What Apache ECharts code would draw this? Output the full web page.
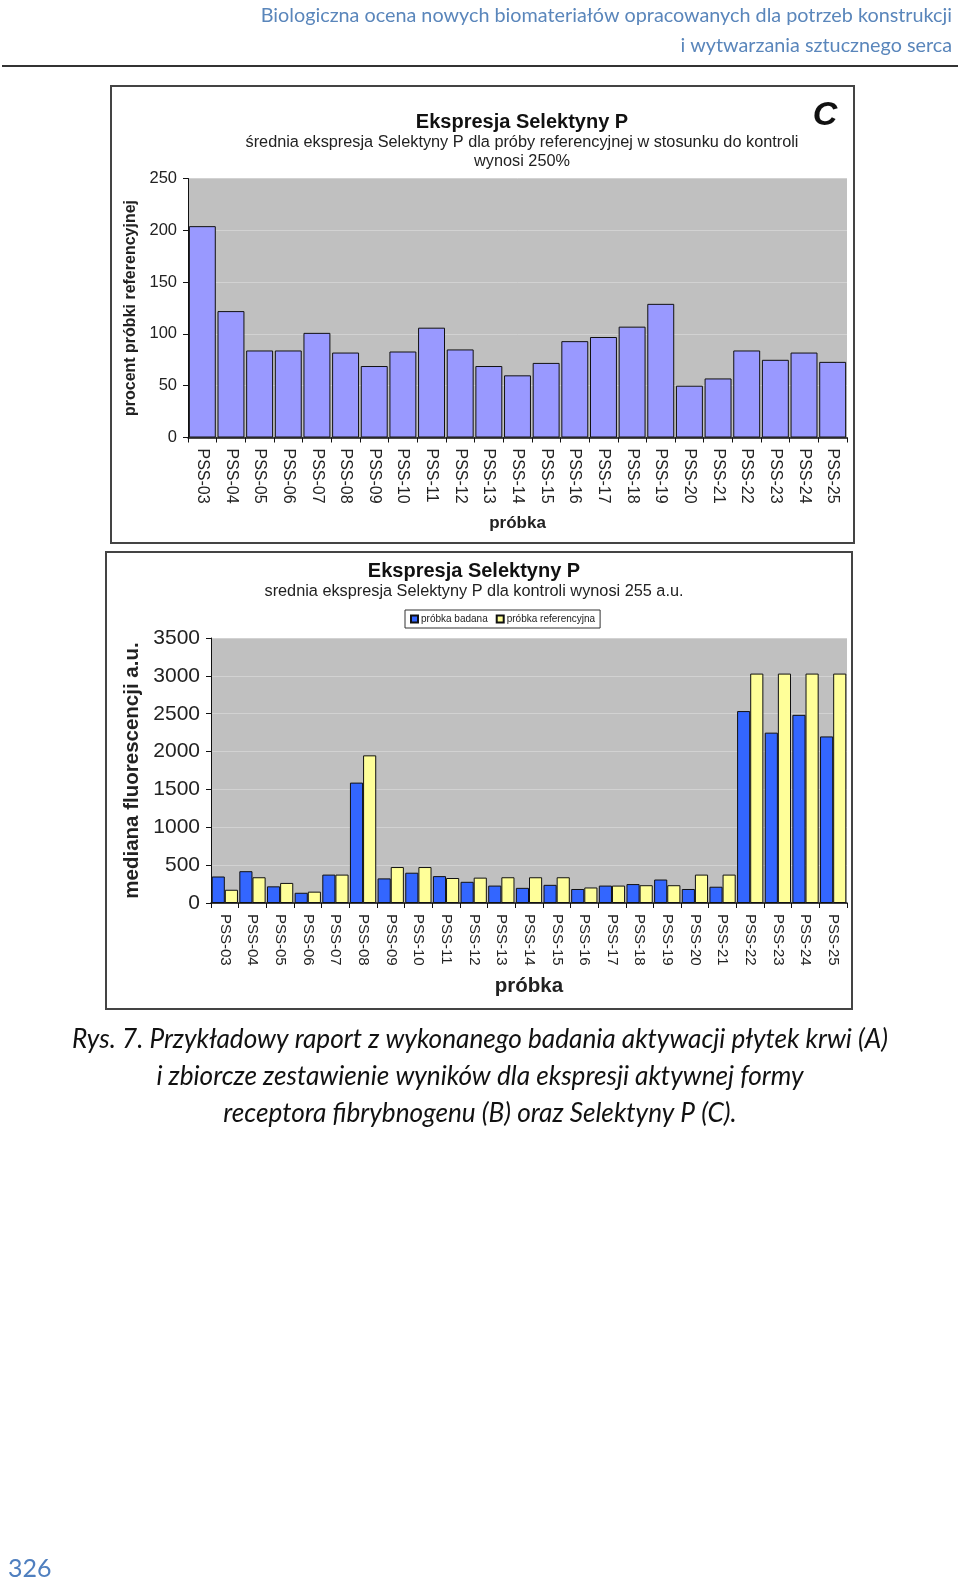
<!DOCTYPE html>
<html>
<head>
<meta charset="utf-8">
<script src="https://cdn.jsdelivr.net/npm/echarts@6/dist/echarts.min.js"></script>
<style>
html,body{margin:0;padding:0;background:#fff;}
#chart{width:960px;height:1581px;}
</style>
</head>
<body>
<div id="chart"></div>
<script>
// ---- data ----
const categories = ['PSS-03','PSS-04','PSS-05','PSS-06','PSS-07','PSS-08','PSS-09','PSS-10','PSS-11','PSS-12','PSS-13','PSS-14','PSS-15','PSS-16','PSS-17','PSS-18','PSS-19','PSS-20','PSS-21','PSS-22','PSS-23','PSS-24','PSS-25'];
const percentRef = [204, 122, 84, 84, 101, 82, 69, 83, 106, 85, 69, 60, 72, 93, 97, 107, 129, 50, 57, 84, 75, 82, 73];
const badana = [350, 420, 220, 135, 375, 1590, 325, 400, 355, 280, 230, 200, 240, 185, 230, 250, 310, 185, 215, 2535, 2250, 2485, 2200];
const referencyjna = [175, 340, 265, 150, 375, 1950, 475, 475, 330, 335, 340, 340, 340, 205, 230, 235, 235, 375, 375, 3030, 3030, 3030, 3030];
const topTicks = {min: 0, max: 250, interval: 50};
const bottomTicks = {min: 0, max: 3500, interval: 500};

const topTitle = 'Ekspresja Selektyny P';
const topSub1 = 'średnia ekspresja Selektyny P dla próby referencyjnej w stosunku do kontroli';
const topSub2 = 'wynosi 250%';
const bottomTitle = 'Ekspresja Selektyny P';
const bottomSub = 'srednia ekspresja Selektyny P dla kontroli wynosi 255 a.u.';
const headerLines = ['Biologiczna ocena nowych biomateriałów opracowanych dla potrzeb konstrukcji', 'i wytwarzania sztucznego serca'];
const captionLines = ['Rys. 7. Przykładowy raport z wykonanego badania aktywacji płytek krwi (A)', 'i zbiorcze zestawienie wyników dla ekspresji aktywnej formy', 'receptora fibrybnogenu (B) oraz Selektyny P (C).'];

const NF = "'Liberation Sans',Arial,sans-serif";
const DOC = "Lato,'Open Sans',sans-serif";

const chart = echarts.init(document.getElementById('chart'), null, {renderer: 'canvas'});

function txt(text, x, y, o) {
  return {type: 'text', z: 10, style: Object.assign({text: text, x: x, y: y, textAlign: 'center', textVerticalAlign: 'middle', fill: '#111', fontFamily: NF, fontSize: 14}, o || {})};
}

const graphics = [
  // header
  txt(headerLines[0], 952, 16, {textAlign: 'right', fill: '#5a86bb', fontFamily: DOC, fontSize: 19.8}),
  txt(headerLines[1], 952, 46, {textAlign: 'right', fill: '#5a86bb', fontFamily: DOC, fontSize: 19.8}),
  {type: 'line', shape: {x1: 2, y1: 66, x2: 958, y2: 66}, style: {stroke: '#333', lineWidth: 2}},
  // frames
  {type: 'rect', shape: {x: 111, y: 86, width: 743, height: 457}, style: {fill: 'none', stroke: '#444', lineWidth: 2}},
  {type: 'rect', shape: {x: 106, y: 552, width: 746, height: 457}, style: {fill: 'none', stroke: '#444', lineWidth: 2}},
  // top chart titles
  txt(topTitle, 522, 122, {fontWeight: 'bold', fontSize: 20}),
  txt(topSub1, 522, 143, {fontSize: 16.3, fill: '#222'}),
  txt(topSub2, 522, 162, {fontSize: 16.3, fill: '#222'}),
  txt('C', 825, 116, {fontWeight: 'bold', fontStyle: 'italic', fontSize: 34}),
  // bottom chart titles
  txt(bottomTitle, 474, 571, {fontWeight: 'bold', fontSize: 20}),
  txt(bottomSub, 474, 592, {fontSize: 16.3, fill: '#222'}),
  // caption
  txt(captionLines[0], 480, 1040, {fontFamily: DOC, fontStyle: 'italic', fontSize: 26.2}),
  txt(captionLines[1], 480, 1077, {fontFamily: DOC, fontStyle: 'italic', fontSize: 26.2}),
  txt(captionLines[2], 480, 1114, {fontFamily: DOC, fontStyle: 'italic', fontSize: 26.2}),
  // page number
  txt('326', 8, 1569, {textAlign: 'left', fill: '#4f7fbf', fontFamily: DOC, fontSize: 25})
];

const noSep = v => String(v);

const option = {
  animation: false,
  backgroundColor: '#ffffff',
  graphic: graphics,
  legend: {
    data: ['próbka badana', 'próbka referencyjna'],
    left: 405, top: 610,
    orient: 'horizontal',
    borderColor: '#333', borderWidth: 1,
    padding: [4, 5, 4, 5],
    itemWidth: 7, itemHeight: 7, itemGap: 8,
    icon: 'rect',
    textStyle: {fontSize: 10, fontFamily: NF, color: '#222', padding: [0, 0, 0, -2]}
  },
  grid: [
    {left: 188, top: 178.5, width: 659, height: 259, show: true, backgroundColor: '#c0c0c0', borderWidth: 0, containLabel: false},
    {left: 211, top: 638, width: 636, height: 265, show: true, backgroundColor: '#c0c0c0', borderWidth: 0, containLabel: false}
  ],
  xAxis: [
    {
      type: 'category', gridIndex: 0, data: categories,
      axisLine: {lineStyle: {color: '#111', width: 1.5}},
      axisTick: {show: true, length: 5, lineStyle: {color: '#111'}},
      axisLabel: {rotate: -90, margin: 11, fontSize: 16, fontFamily: NF, color: '#222', interval: 0},
      name: 'próbka', nameLocation: 'middle', nameGap: 77,
      nameTextStyle: {fontWeight: 'bold', fontSize: 17, fontFamily: NF, color: '#222'}
    },
    {
      type: 'category', gridIndex: 1, data: categories,
      axisLine: {lineStyle: {color: '#111', width: 1.5}},
      axisTick: {show: true, length: 5, lineStyle: {color: '#111'}},
      axisLabel: {rotate: -90, margin: 11, fontSize: 15, fontFamily: NF, color: '#222', interval: 0},
      name: 'próbka', nameLocation: 'middle', nameGap: 73,
      nameTextStyle: {fontWeight: 'bold', fontSize: 20.5, fontFamily: NF, color: '#222'}
    }
  ],
  yAxis: [
    {
      type: 'value', gridIndex: 0, min: topTicks.min, max: topTicks.max, interval: topTicks.interval,
      axisLine: {show: true, lineStyle: {color: '#111', width: 1}},
      axisTick: {show: true, length: 5, lineStyle: {color: '#111'}},
      splitLine: {lineStyle: {color: '#d2d2d2', width: 1}},
      axisLabel: {margin: 11, fontSize: 16.5, fontFamily: NF, color: '#222', formatter: noSep},
      name: 'procent próbki referencyjnej', nameLocation: 'middle', nameGap: 44, nameRotate: 90,
      nameTextStyle: {fontWeight: 'bold', fontSize: 16, fontFamily: NF, color: '#222'}
    },
    {
      type: 'value', gridIndex: 1, min: bottomTicks.min, max: bottomTicks.max, interval: bottomTicks.interval,
      axisLine: {show: true, lineStyle: {color: '#111', width: 1}},
      axisTick: {show: true, length: 5, lineStyle: {color: '#111'}},
      splitLine: {lineStyle: {color: '#d2d2d2', width: 1}},
      axisLabel: {margin: 11, fontSize: 21, fontFamily: NF, color: '#222', formatter: noSep},
      name: 'mediana fluorescencji a.u.', nameLocation: 'middle', nameGap: 68, nameRotate: 90,
      nameTextStyle: {fontWeight: 'bold', fontSize: 20.5, fontFamily: NF, color: '#222'}
    }
  ],
  series: [
    {
      name: 'procent', type: 'bar', xAxisIndex: 0, yAxisIndex: 0, data: percentRef,
      barCategoryGap: '6%',
      itemStyle: {color: '#9999ff', borderColor: '#111', borderWidth: 1}
    },
    {
      name: 'próbka badana', type: 'bar', xAxisIndex: 1, yAxisIndex: 1, data: badana,
      barGap: '0%', barCategoryGap: '5%',
      itemStyle: {color: '#3366ff', borderColor: '#111', borderWidth: 1}
    },
    {
      name: 'próbka referencyjna', type: 'bar', xAxisIndex: 1, yAxisIndex: 1, data: referencyjna,
      barGap: '0%', barCategoryGap: '5%',
      itemStyle: {color: '#ffff99', borderColor: '#111', borderWidth: 1}
    }
  ]
};
chart.setOption(option);
</script>
</body>
</html>
